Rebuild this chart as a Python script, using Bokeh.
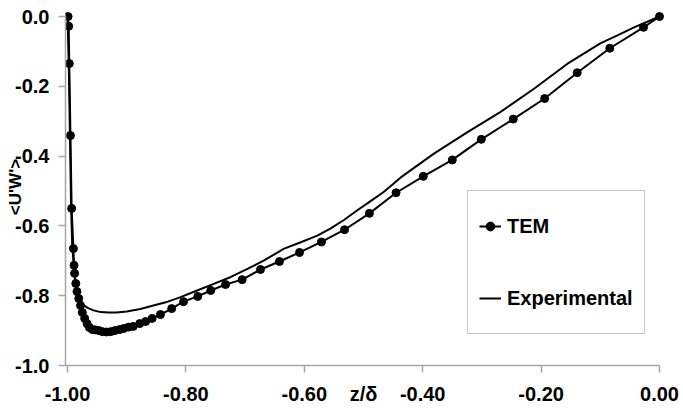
import numpy as np
from bokeh.plotting import figure
from bokeh.models import Range1d, LinearAxis, FixedTicker
from bokeh.embed import file_html
from bokeh.resources import INLINE

# TEM (model) series
tem_x = [-0.999, -0.998, -0.997, -0.995, -0.993, -0.990, -0.989, -0.988, -0.986, -0.984,
         -0.981, -0.978, -0.975, -0.971, -0.967, -0.963, -0.958, -0.953, -0.947, -0.941,
         -0.934, -0.927, -0.920, -0.912, -0.905, -0.897, -0.889, -0.878, -0.868, -0.857,
         -0.843, -0.824, -0.804, -0.780, -0.758, -0.733, -0.705, -0.674, -0.642, -0.608,
         -0.571, -0.532, -0.490, -0.445, -0.399, -0.350, -0.301, -0.247, -0.194, -0.139,
         -0.084, -0.027, 0.000]
tem_y = [0.000, -0.028, -0.135, -0.341, -0.550, -0.665, -0.713, -0.736, -0.765, -0.788,
         -0.808, -0.828, -0.848, -0.865, -0.880, -0.891, -0.897, -0.898, -0.900, -0.903,
         -0.904, -0.903, -0.900, -0.897, -0.894, -0.890, -0.888, -0.880, -0.874, -0.865,
         -0.854, -0.837, -0.817, -0.802, -0.785, -0.768, -0.754, -0.725, -0.702, -0.676,
         -0.646, -0.611, -0.564, -0.505, -0.458, -0.411, -0.352, -0.294, -0.235, -0.161,
         -0.091, -0.031, 0.000]

# Experimental series
exp_x = [-1.000, -0.998, -0.996, -0.994, -0.992, -0.989, -0.987, -0.983, -0.978, -0.973,
         -0.966, -0.956, -0.944, -0.931, -0.917, -0.900, -0.877, -0.855, -0.834, -0.809,
         -0.781, -0.753, -0.725, -0.696, -0.668, -0.635, -0.606, -0.578, -0.556, -0.533,
         -0.511, -0.488, -0.466, -0.437, -0.381, -0.325, -0.269, -0.212, -0.156, -0.100,
         -0.071, -0.043, 0.000]
exp_y = [0.000, -0.126, -0.327, -0.542, -0.656, -0.722, -0.765, -0.794, -0.814, -0.827,
         -0.835, -0.842, -0.847, -0.848, -0.848, -0.845, -0.838, -0.828, -0.819, -0.804,
         -0.785, -0.766, -0.747, -0.723, -0.699, -0.666, -0.647, -0.628, -0.608, -0.583,
         -0.556, -0.529, -0.503, -0.461, -0.393, -0.332, -0.274, -0.207, -0.136, -0.077,
         -0.054, -0.031, 0.000]

x_ticks = [-1.0, -0.8, -0.6, -0.4, -0.2, 0.0]
x_tick_labels = ["-1.00", "-0.80", "-0.60", "-0.40", "-0.20", "0.00"]
y_ticks = [0.0, -0.2, -0.4, -0.6, -0.8, -1.0]
y_tick_labels = ["0.0", "-0.2", "-0.4", "-0.6", "-0.8", "-1.0"]
x_title = "z/δ"
x_title_at = -0.5
y_title = "<U'W'>"

FONT = "Liberation Sans"
AXIS_GRAY = "#a6a6a6"
LEFT_PAD = 2 / 592

p = figure(width=683, height=410, output_backend="svg", toolbar_location=None,
           x_range=Range1d(-1 - LEFT_PAD, 12 / 592), y_range=Range1d(-1, 8 / 349),
           x_axis_location=None, y_axis_location=None,
           min_border_left=65, min_border_right=12, min_border_top=8, min_border_bottom=45)
p.outline_line_color = None
p.grid.visible = False
p.background_fill_color = "white"
p.border_fill_color = "white"


def style_axis(ax):
    ax.axis_line_color = AXIS_GRAY
    ax.axis_line_width = 1.5
    ax.major_tick_line_color = AXIS_GRAY
    ax.major_tick_line_width = 1.5
    ax.minor_tick_line_color = AXIS_GRAY
    ax.minor_tick_line_width = 1.5
    ax.major_tick_in = 0
    ax.minor_tick_in = 0
    ax.major_label_text_font = FONT
    ax.major_label_text_font_size = "20px"
    ax.major_label_text_font_style = "bold"
    ax.major_label_text_color = "black"


# x axis: labels (incl. the axis title) at invisible major ticks, tick marks as minor ticks
x_overrides = dict(zip(x_ticks, x_tick_labels))
x_overrides[x_title_at] = x_title
xaxis = LinearAxis(ticker=FixedTicker(ticks=x_ticks + [x_title_at], minor_ticks=x_ticks),
                   bounds=(-1.0 - LEFT_PAD, 0.0), major_label_overrides=x_overrides)
style_axis(xaxis)
xaxis.major_tick_out = 0
xaxis.minor_tick_out = 7
xaxis.major_label_standoff = 10

yaxis = LinearAxis(ticker=FixedTicker(ticks=y_ticks), bounds=(-1.0, 0.0),
                   major_label_overrides=dict(zip(y_ticks, y_tick_labels)))
style_axis(yaxis)
yaxis.major_tick_out = 7
yaxis.minor_tick_out = 0
yaxis.major_label_standoff = 9
yaxis.axis_label = y_title
yaxis.axis_label_standoff = -13
yaxis.axis_label_text_font = FONT
yaxis.axis_label_text_font_size = "17px"
yaxis.axis_label_text_font_style = "bold"
yaxis.axis_label_text_color = "black"

p.add_layout(xaxis, "below")
p.add_layout(yaxis, "left")

p.line(tem_x, tem_y, line_color="black", line_width=2, legend_label="TEM")
p.scatter(tem_x, tem_y, size=8, fill_color="black", line_color="black", legend_label="TEM")
p.line(exp_x, exp_y, line_color="black", line_width=2, legend_label="Experimental")

lg = p.legend[0]
lg.location = (402, 31)
lg.orientation = "vertical"
lg.border_line_color = "#8c8c8c"
lg.border_line_width = 1
lg.background_fill_color = "white"
lg.background_fill_alpha = 1.0
lg.padding = 11
lg.margin = 0
lg.spacing = 24
lg.glyph_width = 22
lg.glyph_height = 48
lg.label_standoff = 6
lg.label_text_font = FONT
lg.label_text_font_size = "20px"
lg.label_text_font_style = "bold"
lg.label_text_color = "black"

open("out.html", "w").write(file_html(p, INLINE))
